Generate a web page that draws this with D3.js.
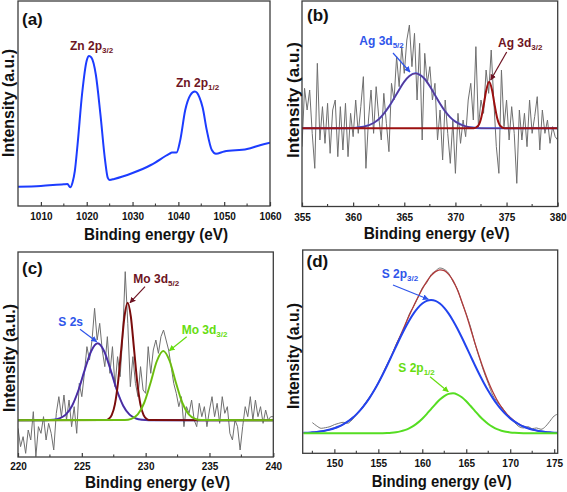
<!DOCTYPE html>
<html><head><meta charset="utf-8">
<script src="https://cdn.jsdelivr.net/npm/d3@7"></script>
<style>
body{margin:0;background:#fff}
svg{display:block}
text{font-family:"Liberation Sans",Arial,sans-serif;font-weight:bold}
</style>
</head><body>
<svg id="chart" width="567" height="492"></svg>
<script>
// ---------- (a) Zn 2p ----------
const aEnergy = [1005,1010,1015,1015.8,1016.4,1016.9,1017.4,1018,1019,1020,1020.5,1021,1022,1023,1024,1024.6,1025,1026,1030,1034,1038,1038.6,1039.6,1040.4,1041.5,1042.6,1043.6,1044.6,1045.3,1046.2,1047.3,1048.2,1050,1055,1058,1060];
const aIntensity = [9.4,9.8,10.6,10.7,9.1,11.5,17,30,55,71,73.2,72.5,63.9,44.4,22.4,13.7,12.7,13.2,16.1,20.0,25.4,26.1,26.1,32,46.8,54,55.8,53,48,37,27.3,25.5,26.6,27.8,29.8,30.9];
const aTicks = [1010,1020,1030,1040,1050,1060];
const aMinorTicks = [1015,1025,1035,1045,1055];

// ---------- (b) Ag 3d ----------
const bRawStart = 355, bRawStep = 0.25;
const bRaw = [-55,120,55,115,-15,-120,195,-35,65,-45,75,-75,55,85,-85,65,-65,75,-85,45,
  -25,85,-15,65,155,-120,25,115,-15,125,35,-35,105,15,-70,135,85,215,125,245,
  165,265,310,185,285,85,255,-35,225,135,185,85,135,-35,55,-95,85,-15,-105,25,
  -135,45,-45,25,-25,85,135,25,245,5,85,45,175,105,235,85,-55,-135,175,5,
  85,-35,65,-15,-165,55,-35,45,-55,85,-15,35,95,-65,55,-15,25,-45,5,-25,-35];
const bAg52E = [355,359,360,361,362,362.5,363,363.5,364,364.5,365,365.5,366.1,366.6,367,367.5,368,368.5,369,369.5,370,371,372,373,380];
const bAg52V = [0,0,1,4.5,16,27,44,65,90,116,140,157,165,159,148,126,100,74,51,33,20,6,1.3,0,0];
const bAg32E = [355,371.8,372.2,372.5,372.8,373,373.3,373.6,373.8,374.1,374.4,374.8,380];
const bAg32V = [0,0.5,7,29,76,112,140,112,76,29,7,0.5,0];
const bTicks = [355,360,365,370,375,380];
const bMinorTicks = [357.5,362.5,367.5,372.5,377.5];

// ---------- (c) S 2s / Mo 3d ----------
const cRawStart = 220, cRawStep = 0.2;
const cRaw = [-24,-79,-49,-99,-29,-59,26,-109,-19,-39,11,-59,-9,-39,-89,21,71,11,76,1,
  61,-19,41,-39,111,71,141,221,181,241,336,241,291,211,161,251,141,221,101,191,
  131,251,446,291,101,191,111,71,161,91,81,221,141,211,241,201,251,271,241,211,
  161,111,81,41,71,-19,41,21,61,1,-19,51,11,41,-19,31,71,11,51,-9,
  71,21,41,-39,-59,1,-19,-89,-19,41,11,71,1,61,11,41,-9,31,1,11,11];
const cS2sE = [220,222.24,222.74,223.24,223.74,224.24,224.74,225.24,225.74,226.24,226.74,227.24,227.74,228.24,228.74,229.24,229.74,230.24,240];
const cS2sV = [0,0.3,1.5,5.6,17,44,91,153,208,231,208,153,91,44,17,5.6,1.5,0.3,0];
const cMo52E = [220,226.84,227.09,227.34,227.59,227.84,228.09,228.34,228.59,228.84,229.09,229.34,229.59,229.84,230.09,230.34,240];
const cMo52V = [0,0.8,3.9,15.5,48,115,214,311,353,311,214,115,48,15.5,3.9,0.8,0];
const cMo32E = [220,228.38,228.88,229.38,229.88,230.38,230.88,231.38,231.88,232.38,232.88,233.38,233.88,234.38,240];
const cMo32V = [0,0.8,4.4,17.6,52,112,178,208,178,112,52,17.6,4.4,0.8,0];
const cTicks = [220,225,230,235,240];
const cMinorTicks = [222.5,227.5,232.5,237.5];

// ---------- (d) S 2p ----------
const dFitStart = 146.5, dFitStep = 0.5;
const dS2p32 = [1.4,2.0,2.9,4.2,5.9,8.2,11.3,15.2,20.3,26.9,34.9,44.8,56.7,70.9,87.5,106.4,127.7,151.2,176.5,
  203.5,231.4,259.6,287.3,313.7,337.9,359.1,376.4,389.3,397.3,
  400,397.3,389.3,376.4,359.1,337.9,313.7,287.3,259.6,231.4,
  203.5,176.5,151.2,127.7,106.4,87.5,70.9,56.7,44.8,34.9,
  26.9,20.3,15.2,11.3,8.2,5.9,4.2,2.9,2.0,1.4];
const dS2p12 = [0,0,0,0,0,0,0,0,0,0,0,0,0,0,0,0,0,0.3,0.5,
  1.0,1.9,3.4,5.8,9.5,14.9,22.3,32,43.9,57.7,72.8,87.7,101.2,111.8,118.3,119.9,116.3,108,96,81.8,
  66.7,52,38.9,27.8,19.1,12.5,7.8,4.7,2.7,1.5,0.8,0.4,0.2,0,0,0,0,0,0,0];
const dEnvelope = [1.4,2.0,2.9,4.2,5.9,8.2,11.3,15.2,20.3,26.9,34.9,44.8,56.7,70.9,87.5,106.4,127.8,151.5,177,
  204.5,233,263,293,323,353,381,408,433,455,
  473,485,490.5,488,477,458,430,395,356,313,
  270,228.5,190,155.5,125.5,100,78.7,61.4,47.5,36.4,
  27.7,20.7,15.4,11.3,8.2,5.9,4.2,2.9,2.0,1.4];
const dRawStart = 147.5, dRawStep = 0.5;
const dRaw = [32,22,15,17,20,26,30,33,30,40,
  55,72,90,108,128,150,178,206,231,265,
  292,320,356,380,406,436,452,476,487,496,
  492,480,455,432,393,358,318,268,226,185,
  150,115,95,80,62,45,32,20,16,20,
  14,16,12,20,36,52,58];
const dTicks = [150,155,160,165,170,175];
const dMinorTicks = [147.5,152.5,157.5,162.5,167.5,172.5];

// ---------- helpers ----------
const grid = (start, step, n) => d3.range(n).map(i => +(start + i * step).toFixed(3));
const svg = d3.select("#chart");
const defs = svg.append("defs");

const COL = {maroon:"#6e1423", red:"#9c1010", blue:"#2f55ea", green:"#66dd10", gray:"#6f6f6f", zn:"#1c3cff", frame:"#3c3c3c"};

function marker(id, color) {
  defs.append("marker").attr("id", id).attr("viewBox", "0 0 10 10")
    .attr("refX", 9).attr("refY", 5).attr("markerWidth", 6).attr("markerHeight", 6)
    .attr("orient", "auto").attr("markerUnits", "userSpaceOnUse")
    .append("path").attr("d", "M0,0 L10,5 L0,10 z").attr("fill", color);
}
marker("arBlue", COL.blue); marker("arMaroon", COL.maroon); marker("arGreen", COL.green);

function panel(p) {
  const g = svg.append("g");
  const x = d3.scaleLinear().domain(p.xDomain).range([p.left, p.right]);
  const y = d3.scaleLinear().domain(p.yDomain).range([p.bottom, p.top]);
  defs.append("clipPath").attr("id", "clip" + p.id).append("rect")
    .attr("x", p.left).attr("y", p.top).attr("width", p.right - p.left).attr("height", p.bottom - p.top);
  const plot = g.append("g").attr("clip-path", `url(#clip${p.id})`);
  p.series.forEach(s => {
    const pts = s.x.map((e, i) => [e, s.y[i]]);
    plot.append("path").datum(pts)
      .attr("d", d3.line().x(d => x(d[0])).y(d => y(d[1])).curve(s.curve || d3.curveLinear))
      .attr("fill", "none").attr("stroke", s.color).attr("stroke-width", s.width)
      .attr("stroke-opacity", s.opacity == null ? 1 : s.opacity)
      .attr("stroke-linejoin", "round");
  });
  // bottom axis, inward ticks
  const ax = g.append("g").attr("transform", `translate(0,${p.bottom})`)
    .call(d3.axisBottom(x).tickValues(p.ticks).tickFormat(d3.format("d"))
      .tickSizeInner(-4).tickSizeOuter(0).tickPadding(p.tickPad));
  ax.select(".domain").remove();
  ax.selectAll(".tick line").attr("stroke", COL.frame).attr("stroke-width", 1.2);
  ax.selectAll(".tick text").attr("fill", "#111").style("font-size", "10px")
    .style("font-family", '"Liberation Sans",Arial,sans-serif').style("font-weight", "bold");
  g.selectAll(".minor").data(p.minor).join("line").attr("class", "minor")
    .attr("x1", d => x(d)).attr("x2", d => x(d)).attr("y1", p.bottom).attr("y2", p.bottom - 2.5)
    .attr("stroke", COL.frame).attr("stroke-width", 1.1);
  // frame
  g.append("rect").attr("x", p.left).attr("y", p.top).attr("width", p.right - p.left)
    .attr("height", p.bottom - p.top).attr("fill", "none").attr("stroke", COL.frame).attr("stroke-width", 1.3);
  // panel letter
  g.append("text").attr("x", p.tag[1]).attr("y", p.tag[2]).style("font-size", "17px").attr("fill", "#111").text(p.tag[0]);
  // axis titles
  g.append("text").attr("x", p.xTitle[0]).attr("y", p.xTitle[1]).attr("text-anchor", "middle")
    .attr("textLength", p.xTitle[2]).attr("lengthAdjust", "spacingAndGlyphs")
    .style("font-size", "16px").attr("fill", "#111").text("Binding energy (eV)");
  g.append("text").attr("transform", `translate(${p.yTitle[0]},${p.yTitle[1]}) rotate(-90)`)
    .attr("text-anchor", "middle").attr("dy", "0.35em")
    .attr("textLength", p.yTitle[2]).attr("lengthAdjust", "spacingAndGlyphs")
    .style("font-size", "16px").attr("fill", "#111").text("Intensity (a.u.)");
  // annotations
  p.notes.forEach(n => {
    const t = g.append("text").attr("x", n.at[0]).attr("y", n.at[1]).attr("fill", n.color).style("font-size", "12px");
    t.append("tspan").text(n.main);
    if (n.sub) t.append("tspan").attr("dy", 3).style("font-size", "8px").text(n.sub);
    if (n.arrow) g.append("line").attr("x1", n.arrow[0]).attr("y1", n.arrow[1]).attr("x2", n.arrow[2]).attr("y2", n.arrow[3])
      .attr("stroke", n.color).attr("stroke-width", 1.2).attr("marker-end", `url(#${n.marker})`);
  });
}

// (a)
panel({
  id: "a", left: 18, right: 270, top: 1, bottom: 206, xDomain: [1005, 1060], yDomain: [0, 100],
  ticks: aTicks, minor: aMinorTicks, tickPad: 6.4,
  series: [{x: aEnergy, y: aIntensity, color: COL.zn, width: 2, curve: d3.curveMonotoneX}],
  tag: ["(a)", 22, 24.5], xTitle: [156, 239.5, 144], yTitle: [8.5, 103, 108],
  notes: [
    {main: "Zn 2p", sub: "3/2", at: [70, 50], color: COL.maroon},
    {main: "Zn 2p", sub: "1/2", at: [176, 87], color: COL.maroon}
  ]
});

// (b)
const bRawE = grid(bRawStart, bRawStep, bRaw.length);
panel({
  id: "b", left: 302, right: 557.7, top: 1, bottom: 206.5, xDomain: [355, 380], yDomain: [-234.5, 382],
  ticks: bTicks, minor: bMinorTicks, tickPad: 7,
  series: [
    {x: bRawE, y: bRaw, color: COL.gray, width: 1},
    {x: bAg52E, y: bAg52V, color: "#3a5ef0", width: 2, curve: d3.curveMonotoneX},
    {x: bAg52E, y: bAg52V, color: "#8a1020", width: 1.3, opacity: 0.5, curve: d3.curveMonotoneX},
    {x: bAg32E, y: bAg32V, color: COL.red, width: 2, curve: d3.curveMonotoneX}
  ],
  tag: ["(b)", 307, 21], xTitle: [436.7, 239, 146], yTitle: [293, 100, 116],
  notes: [
    {main: "Ag 3d", sub: "5/2", at: [359.3, 45], color: COL.blue, arrow: [393, 53, 410, 72], marker: "arBlue"},
    {main: "Ag 3d", sub: "3/2", at: [498, 46.7], color: COL.maroon, arrow: [506.7, 52, 490.7, 80], marker: "arMaroon"}
  ]
});

// (c)
const cRawE = grid(cRawStart, cRawStep, cRaw.length);
panel({
  id: "c", left: 18, right: 273.3, top: 252, bottom: 457, xDomain: [220, 240], yDomain: [-110, 505],
  ticks: cTicks, minor: cMinorTicks, tickPad: 6.3,
  series: [
    {x: cRawE, y: cRaw, color: COL.gray, width: 1},
    {x: cS2sE, y: cS2sV, color: "#3340e0", width: 2, curve: d3.curveMonotoneX},
    {x: cS2sE, y: cS2sV, color: "#8a1020", width: 1.2, opacity: 0.45, curve: d3.curveMonotoneX},
    {x: cMo52E, y: cMo52V, color: "#7a0c0c", width: 2, curve: d3.curveMonotoneX},
    {x: cMo32E, y: cMo32V, color: COL.green, width: 2, curve: d3.curveMonotoneX},
    {x: cMo32E, y: cMo32V, color: "#a02020", width: 1, opacity: 0.3, curve: d3.curveMonotoneX}
  ],
  tag: ["(c)", 22, 274], xTitle: [157.5, 487.8, 145], yTitle: [9, 358, 108],
  notes: [
    {main: "S 2s", at: [58.3, 326], color: COL.blue, arrow: [80, 329.3, 96.7, 341.7], marker: "arBlue"},
    {main: "Mo 3d", sub: "5/2", at: [133.3, 283.3], color: COL.maroon, arrow: [145, 286.7, 130, 302.7], marker: "arMaroon"},
    {main: "Mo 3d", sub: "3/2", at: [181.7, 334], color: COL.green, arrow: [186.7, 336.7, 169.3, 350.7], marker: "arGreen"}
  ]
});

// (d)
const dFitE = grid(dFitStart, dFitStep, dS2p32.length);
const dRawE = grid(dRawStart, dRawStep, dRaw.length);
panel({
  id: "d", left: 302.7, right: 557.7, top: 250, bottom: 453.3, xDomain: [146.4, 175.4], yDomain: [-60, 550],
  ticks: dTicks, minor: dMinorTicks, tickPad: 7,
  series: [
    {x: dRawE, y: dRaw, color: "#777", width: 1, curve: d3.curveMonotoneX},
    {x: dFitE, y: dEnvelope, color: "#b03a3a", width: 1.3, curve: d3.curveMonotoneX},
    {x: dFitE, y: dS2p32, color: "#2244ee", width: 2, curve: d3.curveMonotoneX},
    {x: dFitE, y: dS2p12, color: "#55dd22", width: 2, curve: d3.curveMonotoneX}
  ],
  tag: ["(d)", 306.5, 267], xTitle: [441.7, 486.5, 140], yTitle: [293, 356, 106],
  notes: [
    {main: "S 2p", sub: "3/2", at: [381.7, 278.3], color: COL.blue, arrow: [393, 285, 428.3, 299.3], marker: "arBlue"},
    {main: "S 2p", sub: "1/2", at: [398.3, 371.7], color: COL.green, arrow: [430, 376.7, 448.3, 391.7], marker: "arGreen"}
  ]
});
</script>
</body></html>
